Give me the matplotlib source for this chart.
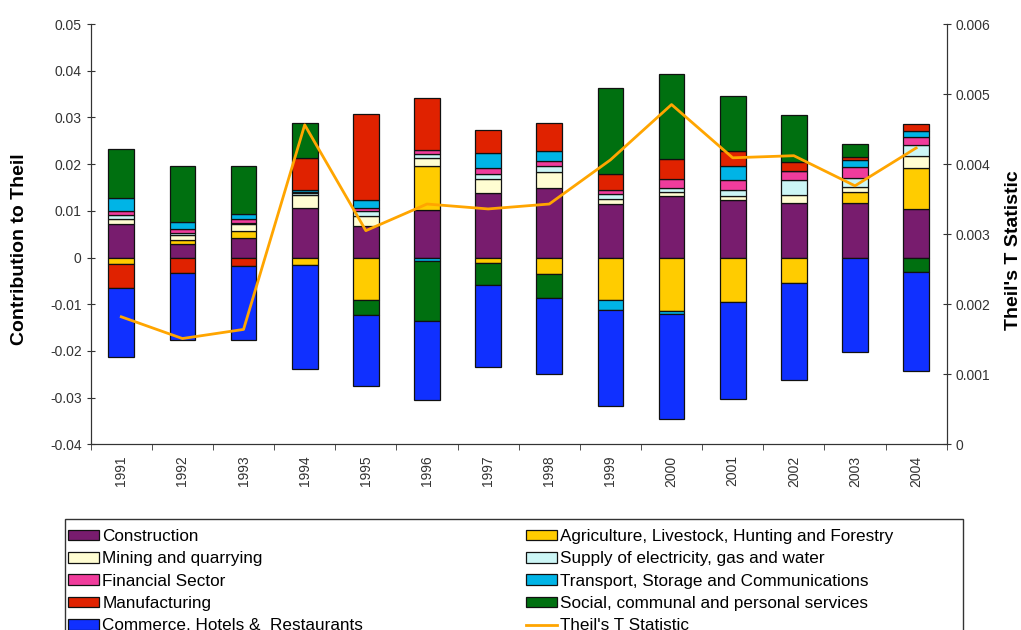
import numpy as np
import matplotlib
matplotlib.use("Agg")
import matplotlib.pyplot as plt
from matplotlib.patches import Patch, Rectangle
from matplotlib.lines import Line2D
from matplotlib.ticker import FuncFormatter, MultipleLocator

plt.rcParams['font.family'] = ['Liberation Sans', 'DejaVu Sans']

years = [str(y) for y in range(1991, 2005)]

# sector contributions to the Theil index, one list per sector
construction = [0.0071, 0.0028, 0.0041, 0.0107, 0.0068, 0.0102, 0.0138, 0.0148, 0.0115, 0.0131, 0.0124, 0.0117, 0.0117, 0.0104]
agriculture = [-0.0014, 0.0010, 0.0016, -0.0016, -0.0092, 0.0093, -0.0012, -0.0035, -0.0092, -0.0115, -0.0096, -0.0055, 0.0023, 0.0087]
mining = [0.0011, 0.0010, 0.0014, 0.0027, 0.0020, 0.0018, 0.0031, 0.0036, 0.0011, 0.0010, 0.0007, 0.0017, 0.0012, 0.0026]
supply = [0.0009, 0.0005, 0.0003, 0.0004, 0.0011, 0.0009, 0.0009, 0.0011, 0.0009, 0.0007, 0.0014, 0.0031, 0.0019, 0.0024]
financial = [0.0009, 0.0009, 0.0008, 0.0003, 0.0008, 0.0009, 0.0014, 0.0012, 0.0010, 0.0020, 0.0020, 0.0020, 0.0022, 0.0017]
transport = [0.0027, 0.0013, 0.0012, 0.0003, 0.0017, -0.0007, 0.0032, 0.0020, -0.0020, -0.0007, 0.0030, 0.0000, 0.0015, 0.0012]
manufacturing = [-0.0051, -0.0033, -0.0019, 0.0070, 0.0184, 0.0111, 0.0048, 0.0061, 0.0033, 0.0043, 0.0033, 0.0019, 0.0007, 0.0015]
social = [0.0106, 0.0121, 0.0102, 0.0073, -0.0031, -0.0128, -0.0046, -0.0051, 0.0184, 0.0183, 0.0117, 0.0101, 0.0027, -0.0030]
commerce = [-0.0147, -0.0143, -0.0157, -0.0222, -0.0153, -0.0170, -0.0177, -0.0163, -0.0207, -0.0223, -0.0207, -0.0207, -0.0203, -0.0214]

# Theil's T statistic (right axis)
theil = [0.00182, 0.00151, 0.00164, 0.00456, 0.00305, 0.00343, 0.00336, 0.00343, 0.00406, 0.00485, 0.00409, 0.00412, 0.00369, 0.00423]

series = [
    ("Construction", construction, "#781C6E"),
    ("Agriculture, Livestock, Hunting and Forestry", agriculture, "#FFCC00"),
    ("Mining and quarrying", mining, "#FFFDD2"),
    ("Supply of electricity, gas and water", supply, "#CCF6F6"),
    ("Financial Sector", financial, "#F03C9C"),
    ("Transport, Storage and Communications", transport, "#00B4E6"),
    ("Manufacturing", manufacturing, "#E02200"),
    ("Social, communal and personal services", social, "#007010"),
    ("Commerce, Hotels &  Restaurants", commerce, "#1030FF"),
]

fig = plt.figure(figsize=(10.21, 6.30), dpi=100)
ax = fig.add_axes([90.7 / 1021, 1 - 444.3 / 630, (946.7 - 90.7) / 1021, (444.3 - 24) / 630])

x = np.arange(len(years))
pos_base = np.zeros(len(years))
neg_base = np.zeros(len(years))
handles = {}
for name, vals, color in series:
    v = np.array(vals)
    bottoms = np.where(v >= 0, pos_base, neg_base)
    ax.bar(x, v, 0.42, bottom=bottoms, color=color, edgecolor="#111111", linewidth=0.9, zorder=2)
    pos_base = pos_base + np.where(v >= 0, v, 0)
    neg_base = neg_base + np.where(v < 0, v, 0)
    handles[name] = Patch(facecolor=color, edgecolor="#111111", linewidth=0.9)

ax.set_xlim(-0.5, len(years) - 0.5)
ax.set_ylim(-0.04, 0.05)
ax.yaxis.set_major_locator(MultipleLocator(0.01))

fmt = FuncFormatter(lambda v, p: "0" if abs(v) < 1e-12 else f"{v:g}")
ax.yaxis.set_major_formatter(fmt)
ax.set_xticks(x)
ax.set_xticks(np.arange(len(years) + 1) - 0.5, minor=True)
ax.set_xticklabels(years, rotation=90, fontsize=10, color="#333333")
ax.tick_params(axis="x", which="major", length=0, pad=8)
ax.tick_params(axis="x", which="minor", length=4, direction="out", color="#333333")
ax.tick_params(axis="y", direction="inout", length=6, labelsize=10, labelcolor="#333333", color="#333333")
ax.spines["top"].set_visible(False)
for s in ("left", "right", "bottom"):
    ax.spines[s].set_color("#333333")

ax2 = ax.twinx()
ax2.plot(x, theil, color="#FFA500", linewidth=2.0, zorder=3)
ax2.set_ylim(0, 0.006)
ax2.yaxis.set_major_locator(MultipleLocator(0.001))
ax2.yaxis.set_major_formatter(fmt)
ax2.tick_params(axis="y", direction="inout", length=6, labelsize=10, labelcolor="#333333", color="#333333")
ax2.spines["top"].set_visible(False)
for s in ("left", "right", "bottom"):
    ax2.spines[s].set_color("#333333")

fig.text(20 / 1021, 1 - 249 / 630, "Contribution to Theil", rotation=90, ha="center", va="center",
         fontsize=14, fontweight="bold")
fig.text(1013 / 1021, 1 - 250 / 630, "Theil's T Statistic", rotation=90, ha="center", va="center",
         fontsize=14, fontweight="bold")

handles["Theil's T Statistic"] = Line2D([], [], color="#FFA500", linewidth=2.0)
order = ["Construction", "Mining and quarrying", "Financial Sector", "Manufacturing",
         "Commerce, Hotels &  Restaurants",
         "Agriculture, Livestock, Hunting and Forestry", "Supply of electricity, gas and water",
         "Transport, Storage and Communications", "Social, communal and personal services",
         "Theil's T Statistic"]

fig.patches.append(Rectangle((65 / 1021, -0.1), (963 - 65) / 1021, 0.1 + 1 - 519 / 630,
                             transform=fig.transFigure, fill=False, edgecolor="#333333", linewidth=1.0))
fig.legend([handles[k] for k in order], order, ncol=2, loc="upper left",
           bbox_to_anchor=(68 / 1021, 1 - 529 / 630), frameon=False, fontsize=12.3,
           handlelength=1.8, handleheight=0.6, handletextpad=0.2, labelspacing=0.43,
           columnspacing=9.55, borderpad=0, borderaxespad=0)

fig.savefig("out.png", dpi=100)
